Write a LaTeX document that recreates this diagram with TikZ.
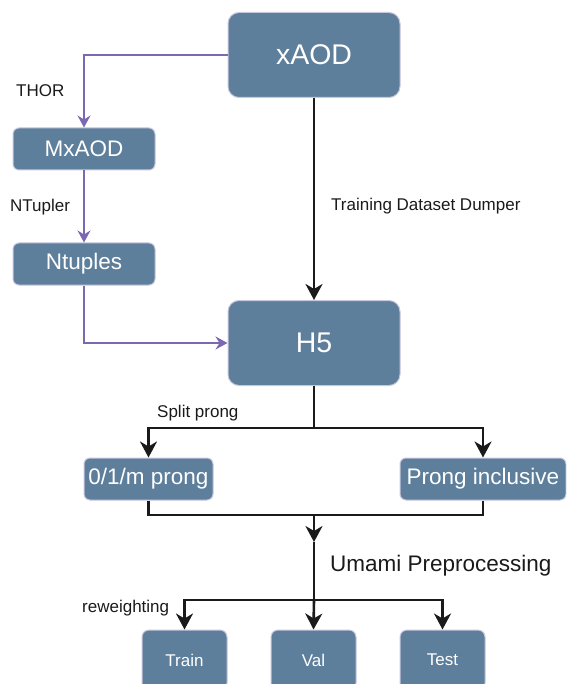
\documentclass[tikz,border=0pt]{standalone}
\usepackage{fontspec}
\setmainfont{Liberation Sans}
\usetikzlibrary{arrows.meta}
\definecolor{boxfill}{HTML}{5D7F9B}
\definecolor{boxedge}{HTML}{C9C6E0}
\definecolor{purp}{HTML}{7B68B0}
\definecolor{ink}{HTML}{1A1A1A}

\begin{document}
\begin{tikzpicture}[x=1pt,y=-1pt,
  box/.style={draw=boxedge, line width=1pt, fill=boxfill, text=white,
    rounded corners=6pt, inner sep=0pt, align=center},
  bigbox/.style={box, minimum width=172pt, minimum height=85pt,
    rounded corners=11pt, font=\fontsize{28.5}{32}\selectfont},
  midbox/.style={box, minimum height=42pt, font=\fontsize{22.5}{26}\selectfont},
  smallbox/.style={box, minimum width=85pt, minimum height=60pt,
    rounded corners=7pt, font=\fontsize{17}{20}\selectfont},
  purplink/.style={draw=purp, line width=1.5pt,
    -{Stealth[length=12pt,width=13pt,inset=4pt]}},
  blackline/.style={draw=ink, line width=2.6pt},
  blackflow/.style={blackline, -{Stealth[length=16pt,width=17pt,inset=5pt]}},
  lbl/.style={font=\fontsize{17}{20}\selectfont, text=ink, inner sep=0pt, anchor=west}]

\useasboundingbox (0,0) rectangle (566,684);
\clip (0,0) rectangle (566,684);

% boxes
\node[bigbox] (xaod) at (314,55) {xAOD};
\node[bigbox] (h5) at (314,343) {H5};
\node[midbox, minimum width=142pt] (mxaod) at (84,149) {MxAOD};
\node[midbox, minimum width=142pt] (ntuples) at (84,264) {Ntuples};
\node[midbox, minimum width=129pt] (prong) at (148.5,479) {0/1/m prong};
\node[midbox, minimum width=166pt] (incl) at (483,479) {Prong inclusive};
\node[smallbox] (train) at (184.5,660) {Train};
\node[smallbox] (val) at (313.5,660) {Val};
\node[smallbox] (test) at (442.5,660) {Test};

% junction points
\coordinate (split) at (314,428);
\coordinate (merge) at (314,515);
\coordinate (mergeend) at (314,542);
\coordinate (fan) at (314,600);

% derivation chain
\draw[purplink] (xaod.west) -| (mxaod.north);
\draw[purplink] (mxaod.south) -- (ntuples.north);
\draw[purplink] (ntuples.south) |- (h5.west);

% main dumper path
\draw[blackflow] (xaod.south) -- (h5.north);

% prong split
\draw[blackline] (h5.south) -- (split);
\draw[blackflow] (split) -| (prong.north);
\draw[blackflow] (split) -| (incl.north);

% merge into preprocessing
\draw[blackline] (prong.south) |- (merge) -| (incl.south);
\draw[blackflow] (merge) -- (mergeend);
\draw[blackline] (mergeend) -- (fan);

% outputs
\draw[blackflow] (fan) -| (train.north);
\draw[blackflow] (fan) -- (val.north);
\draw[blackflow] (fan) -| (test.north);

% labels
\node[lbl] (lthor) at (16,91) {THOR};
\node[lbl] (lntup) at (10,207) {NTupler};
\node[lbl] (ltdd) at (331,206) {Training Dataset Dumper};
\node[lbl] (lsplit) at (157,413) {Split prong};
\node[lbl, font=\fontsize{22.5}{26}\selectfont] (lumami) at (330,566) {Umami Preprocessing};
\node[lbl] (lrew) at (82,608) {reweighting};
\end{tikzpicture}
\end{document}
